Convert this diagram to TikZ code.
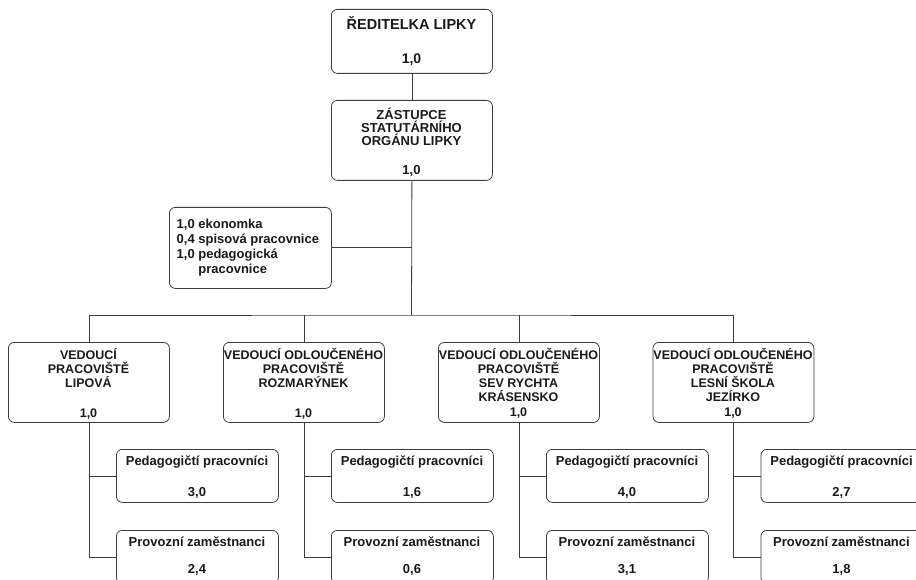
\documentclass[tikz,border=0pt]{standalone}
\usepackage{fontspec}
\setmainfont{Liberation Sans}
\definecolor{linec}{RGB}{60,60,60}
\definecolor{textc}{RGB}{25,25,25}
\begin{document}
\begin{tikzpicture}[x=1pt,y=-1pt,
  box/.style={draw=linec, line width=0.8pt, rounded corners=6pt, inner sep=0pt, anchor=north west},
  conn/.style={draw=linec, line width=0.8pt},
  txt/.style={font=\bfseries\fontsize{13}{15}\selectfont, text=textc, anchor=base, inner sep=0pt},
  sml/.style={txt, font=\bfseries\fontsize{12.5}{14}\selectfont},
  big/.style={txt, font=\bfseries\fontsize{14.5}{16}\selectfont}]
\useasboundingbox (0,0) rectangle (916,580);
\clip (0,0) rectangle (916,580);

% top boxes
\node[box, minimum width=161pt, minimum height=64pt] (dir) at (331,9) {};
\node[big] (dirA) at (411.5,30) {ŘEDITELKA LIPKY};
\node[txt, font=\bfseries\fontsize{14}{16}\selectfont] (dirB) at (411.5,64) {1,0};

\node[box, minimum width=161pt, minimum height=80pt] (zast) at (331,100) {};
\node[txt] (zastA) at (411.5,120) {ZÁSTUPCE};
\node[txt] (zastB) at (411.5,133) {STATUTÁRNÍHO};
\node[txt] (zastC) at (411.5,146) {ORGÁNU LIPKY};
\node[txt] (zastD) at (411.5,175) {1,0};

% side box
\node[box, minimum width=162pt, minimum height=81pt] (side) at (169,207) {};
\node[txt, anchor=base west] (sideA) at (176.5,229) {1,0 ekonomka};
\node[txt, anchor=base west] (sideB) at (176.5,243.7) {0,4 spisová pracovnice};
\node[txt, anchor=base west] (sideC) at (176.5,258.2) {1,0 pedagogická};
\node[txt, anchor=base west] (sideD) at (176.5,273) {\hphantom{1,0}\ pracovnice};

% level 2 boxes
\foreach \i/\v in {1/89,2/304,3/519,4/733.5}{
  \node[box, minimum width=161pt, minimum height=80pt] (b\i) at ({\v-81},342) {};
  \node[box, minimum width=162pt, minimum height=53pt] (p\i) at ({\v+27},449) {};
  \node[box, minimum width=162pt, minimum height=53pt] (q\i) at ({\v+27},530) {};
  \node[txt] (pA\i) at ({\v+108},465.5) {Pedagogičtí pracovníci};
  \node[txt] (qA\i) at ({\v+108},546.5) {Provozní zaměstnanci};
}

\node[sml] (b1A) at (88.5,359) {VEDOUCÍ};
\node[sml] (b1B) at (88.5,373) {PRACOVIŠTĚ};
\node[sml] (b1C) at (88.5,387) {LIPOVÁ};
\node[sml] (b1D) at (88.5,417) {1,0};

\node[sml] (b2A) at (303.5,359) {VEDOUCÍ ODLOUČENÉHO};
\node[sml] (b2B) at (303.5,373) {PRACOVIŠTĚ};
\node[sml] (b2C) at (303.5,387) {ROZMARÝNEK};
\node[sml] (b2D) at (303.5,417) {1,0};

\node[sml] (b3A) at (518.5,359.5) {VEDOUCÍ ODLOUČENÉHO};
\node[sml] (b3B) at (518.5,373.5) {PRACOVIŠTĚ};
\node[sml] (b3C) at (518.5,387.5) {SEV RYCHTA};
\node[sml] (b3D) at (518.5,401.5) {KRÁSENSKO};
\node[sml] (b3E) at (518.5,416.5) {1,0};

\node[sml] (b4A) at (733,359.5) {VEDOUCÍ ODLOUČENÉHO};
\node[sml] (b4B) at (733,373.5) {PRACOVIŠTĚ};
\node[sml] (b4C) at (733,387.5) {LESNÍ ŠKOLA};
\node[sml] (b4D) at (733,401.5) {JEZÍRKO};
\node[sml] (b4E) at (733,416.5) {1,0};

% level 3 numbers
\node[txt] (pB1) at (197,496.5) {3,0};
\node[txt] (qB1) at (197,573) {2,4};
\node[txt] (pB2) at (412,496.5) {1,6};
\node[txt] (qB2) at (412,573) {0,6};
\node[txt] (pB3) at (627,496.5) {4,0};
\node[txt] (qB3) at (627,573) {3,1};
\node[txt] (pB4) at (841.5,496.5) {2,7};
\node[txt] (qB4) at (841.5,573) {1,8};

% connectors
\coordinate (bus) at (411.5,315);
\draw[conn] (dir.south) -- (zast.north);
\draw[conn] (zast.south) -- (bus);
\draw[conn] (side.east) -- (side.east -| zast.south);
\draw[conn] (b1.north) |- (bus) -| (b4.north);
\draw[conn] (b2.north) -- (b2.north |- bus);
\draw[conn] (b3.north) -- (b3.north |- bus);
\foreach \i in {1,2,3,4}{
  \draw[conn] (b\i.south) |- (p\i.west);
  \draw[conn] (b\i.south) |- (q\i.west);
}
\end{tikzpicture}
\end{document}
